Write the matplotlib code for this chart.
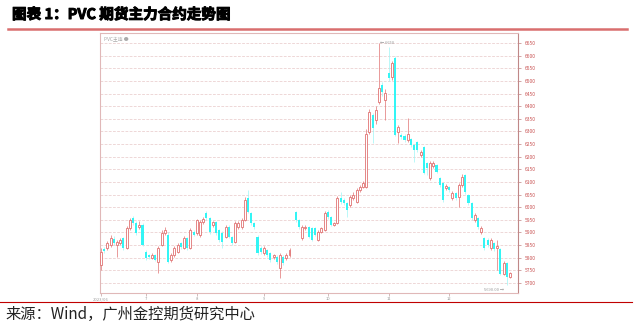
import numpy as np
import matplotlib.pyplot as plt
import matplotlib.lines as mlines
import matplotlib.patheffects as pe

plt.rcParams['font.family'] = ['Noto Sans CJK SC', 'DejaVu Sans']

# OHLC of the PVC main contract
opens = [5771, 5834, 5838, 5850, 5874, 5850, 5858, 5878, 5838, 5917,
         5957, 5937, 5921, 5929, 5822, 5810, 5799, 5810, 5783, 5850,
         5898, 5890, 5791, 5810, 5822, 5858, 5838, 5878, 5838, 5902,
         5898, 5890, 5941, 5977, 5957, 5929, 5941, 5909, 5898, 5882,
         5921, 5882, 5862, 5921, 5921, 5949, 6036, 5977, 5937, 5882,
         5838, 5818, 5830, 5818, 5803, 5803, 5759, 5803, 5799, 5810,
         5981, 5949, 5878, 5917, 5921, 5917, 5917, 5870, 5902, 5909,
         5981, 5961, 5929, 5937, 6036, 6028, 6016, 6008, 6036, 6020,
         6068, 6080, 6080, 6298, 6365, 6345, 6416, 6484, 6424, 6531,
         6515, 6591, 6298, 6286, 6282, 6266, 6270, 6246, 6258, 6207,
         6238, 6175, 6115, 6163, 6167, 6115, 6096, 6076, 6080, 6036,
         6056, 6040, 6088, 6127, 6048, 6016, 5949, 5957, 5902, 5878,
         5870, 5838, 5858, 5838, 5834, 5735, 5779, 5724]
highs = [5838, 5842, 5866, 5890, 5886, 5870, 5878, 5882, 5925, 5957,
         5965, 5945, 5945, 5937, 5830, 5815, 5818, 5815, 5845, 5910,
         5921, 5900, 5818, 5845, 5858, 5862, 5886, 5882, 5917, 5909,
         5955, 5950, 5961, 5985, 5961, 5945, 5945, 5915, 5905, 5929,
         5929, 5886, 5945, 5945, 5957, 6040, 6068, 5981, 5941, 5890,
         5845, 5845, 5834, 5822, 5815, 5810, 5818, 5810, 5818, 5838,
         5985, 5955, 5929, 5929, 5925, 5921, 5921, 5909, 5921, 5985,
         5989, 5965, 5941, 6044, 6060, 6036, 6020, 6048, 6060, 6076,
         6088, 6104, 6310, 6390, 6375, 6400, 6650, 6495, 6470, 6635,
         6580, 6600, 6325, 6292, 6290, 6353, 6275, 6250, 6262, 6225,
         6242, 6180, 6183, 6183, 6172, 6120, 6100, 6090, 6084, 6064,
         6060, 6096, 6131, 6131, 6052, 6020, 5975, 5961, 5925, 5882,
         5878, 5878, 5862, 5870, 5838, 5787, 5783, 5745]
lows = [5751, 5818, 5830, 5842, 5850, 5803, 5850, 5830, 5834, 5909,
        5930, 5890, 5915, 5845, 5790, 5795, 5795, 5787, 5739, 5845,
        5890, 5779, 5783, 5803, 5818, 5834, 5834, 5830, 5834, 5886,
        5890, 5882, 5935, 5950, 5895, 5921, 5890, 5862, 5839, 5878,
        5878, 5850, 5858, 5915, 5915, 5945, 5975, 5930, 5915, 5810,
        5815, 5810, 5803, 5783, 5795, 5775, 5719, 5771, 5791, 5803,
        5941, 5915, 5870, 5909, 5878, 5866, 5886, 5866, 5898, 5905,
        5955, 5925, 5925, 5933, 6012, 6008, 5960, 6000, 6030, 6016,
        6060, 6076, 6076, 6290, 6255, 6330, 6410, 6440, 6345, 6500,
        6505, 6280, 6254, 6270, 6260, 6260, 6240, 6180, 6220, 6200,
        6130, 6127, 6108, 6155, 6135, 6080, 6020, 6070, 6060, 6030,
        6028, 6000, 6080, 6052, 6008, 5950, 5940, 5915, 5895, 5830,
        5842, 5830, 5826, 5750, 5730, 5730, 5690, 5718]
closes = [5822, 5826, 5858, 5878, 5858, 5862, 5870, 5838, 5917, 5949,
          5937, 5898, 5929, 5850, 5799, 5803, 5810, 5791, 5838, 5898,
          5909, 5783, 5810, 5838, 5850, 5842, 5878, 5838, 5909, 5890,
          5949, 5941, 5953, 5957, 5902, 5941, 5898, 5870, 5862, 5921,
          5882, 5858, 5937, 5937, 5949, 6028, 5981, 5937, 5921, 5818,
          5822, 5838, 5810, 5791, 5810, 5783, 5810, 5779, 5810, 5830,
          5949, 5921, 5921, 5921, 5882, 5870, 5890, 5902, 5917, 5977,
          5961, 5929, 5937, 6036, 6020, 6016, 5989, 6040, 6048, 6068,
          6080, 6096, 6290, 6377, 6313, 6385, 6472, 6456, 6452, 6511,
          6571, 6286, 6317, 6278, 6266, 6290, 6246, 6226, 6226, 6218,
          6135, 6155, 6175, 6175, 6139, 6088, 6028, 6084, 6068, 6056,
          6036, 6088, 6119, 6060, 6016, 5957, 5969, 5921, 5917, 5838,
          5850, 5870, 5834, 5846, 5735, 5779, 5724, 5739]
gap_after = 60  # holiday break in the series
price_ticks = list(range(5700, 6651, 50))
date_labels = ["2023/06", "7", "8", "9", "10", "11", "12"]
date_pos = [0, 14, 30, 51, 71, 90, 109]

UP = "#E07272"
DOWN = "#33F5F5"

fig = plt.figure(figsize=(6.42, 3.22), dpi=100)
ax = fig.add_axes([100 / 642, 1 - 293 / 322, 418 / 642, 260 / 322])

n = len(closes)
x = np.arange(n) + (np.arange(n) >= gap_after)
o = np.array(opens)
c = np.array(closes)
h = np.array(highs)
l = np.array(lows)
up = c >= o

ax.vlines(x[up], l[up], h[up], color=UP, lw=0.5, zorder=2)
ax.vlines(x[~up], l[~up], h[~up], color="#9EF5F5", lw=0.5, zorder=2)
ax.bar(x[up], c[up] - o[up], bottom=o[up], width=0.62, facecolor="white",
       edgecolor=UP, linewidth=0.6, zorder=3)
ax.bar(x[~up], o[~up] - c[~up], bottom=c[~up], width=0.66, color=DOWN,
       linewidth=0, zorder=3)

ax.set_ylim(5660, 6690)
ax.set_xlim(-0.3, n + 2.5)
ax.yaxis.tick_right()
ax.set_yticks(price_ticks)
ax.set_yticklabels([str(t) for t in price_ticks], fontsize=3.5, color="#C85050")
ax.tick_params(axis="y", length=2, width=0.5, color="#C08080", pad=3)
ax.set_xticks(date_pos)
ax.set_xticklabels(date_labels, fontsize=3, color="#999999")
ax.tick_params(axis="x", length=2, width=0.5, color="#C0A0A0", pad=1)
ax.grid(axis="y", color="#E8C8C8", lw=0.5, ls=(0, (4, 2)))
ax.set_axisbelow(True)
for side, sp in ax.spines.items():
    sp.set_color("#E0B8B8")
    sp.set_linewidth(0.8)
ax.spines["right"].set_color("#C08888")

ax.text(0.01, 0.985, "PVC主连 ●", transform=ax.transAxes, fontsize=3.5,
        color="#AAAAAA", va="top")
pk = int(np.argmax(h))
ax.annotate("← " + str(max(highs)), (x[pk], max(highs)), xytext=(1, 0),
            textcoords="offset points", fontsize=3, color="#999999", va="center")
lo = int(np.argmin(l))
ax.annotate(f"{min(lows)}.00 →", (x[lo], min(lows)), xytext=(-2, -2),
            textcoords="offset points", fontsize=3, color="#999999",
            va="top", ha="right")

fig.text(12 / 642, 1 - 14 / 322, "图表 1：PVC 期货主力合约走势图", fontsize=10.5,
         fontweight="bold", va="center", ha="left",
         path_effects=[pe.withStroke(linewidth=0.7, foreground="black")])
fig.add_artist(mlines.Line2D([8 / 642, 627 / 642], [1 - 29 / 322] * 2,
                             color="#D96E6E", lw=1.8))
fig.add_artist(mlines.Line2D([0, 632 / 642], [1 - 302 / 322] * 2,
                             color="#C00000", lw=0.8))
fig.text(5 / 642, 1 - 314 / 322, "来源：Wind，广州金控期货研究中心", fontsize=11,
         va="center", ha="left", color="#222222")

fig.savefig("out.png", dpi=100)
